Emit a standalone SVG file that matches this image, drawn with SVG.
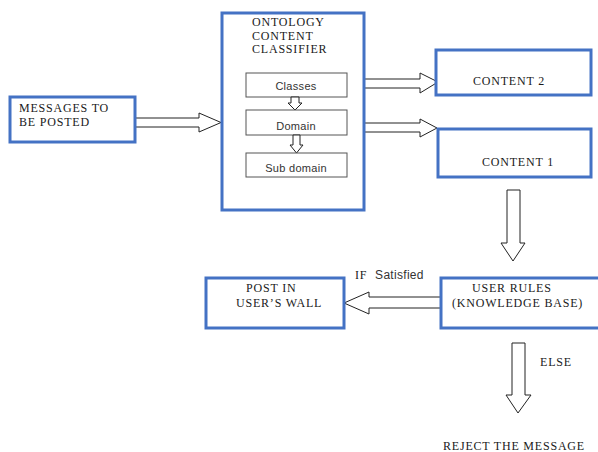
<svg xmlns="http://www.w3.org/2000/svg" width="598" height="452" viewBox="0 0 598 452">
<style>
.box{fill:#fff;stroke:#4472C4;stroke-width:3}
.sub{fill:#fff;stroke:#555;stroke-width:1}
.arr{fill:#fff;stroke:#222;stroke-width:1}
.t{font-family:"Liberation Serif",serif;font-size:12px;fill:#1a1a1a;letter-spacing:0.8px}
.s{font-family:"Liberation Sans",sans-serif;font-size:11px;fill:#333;letter-spacing:0.3px}
</style>
<rect width="598" height="452" fill="#fff"/>
<g id="connectors">
<polygon class="arr" points="135,118 199,118 199,113 221,122.5 199,132 199,127 135,127"/>
<polygon class="arr" points="364,79 420,79 420,73 438,82 420,93 420,88 364,88"/>
<polygon class="arr" points="362,123 420,123 420,119 437,128 420,137 420,132 362,132"/>
<polygon class="arr" points="507,190 520,190 520,243 525,243 513,261 501,243 507,243"/>
<polygon class="arr" points="441,297 369,297 369,292 344,303 369,314 369,308 441,308"/>
<polygon class="arr" points="512,343 525,343 525,395 531,395 518,413 506,395 512,395"/>
<text class="t" x="355" y="279">IF <tspan class="s" dx="4" style="font-size:12px">Satisfied</tspan></text>
<text class="t" x="540" y="366">ELSE</text>
</g>
<g id="messages">
<rect class="box" x="10" y="97" width="125" height="45"/>
<text class="t" x="19" y="112">MESSAGES TO</text>
<text class="t" x="19" y="126">BE POSTED</text>
</g>
<g id="ontology">
<rect class="box" x="222" y="13" width="142" height="197"/>
<text class="t" x="252" y="26">ONTOLOGY</text>
<text class="t" x="252" y="40">CONTENT</text>
<text class="t" x="252" y="53">CLASSIFIER</text>
<g id="classes">
<rect class="sub" x="246" y="73" width="101" height="24"/>
<text class="s" x="296" y="90" text-anchor="middle">Classes</text>
</g>
<polygon class="arr" points="291,97 299,97 299,103 302,103 295,110 288,103 291,103"/>
<g id="domain">
<rect class="sub" x="246" y="110" width="101" height="25"/>
<text class="s" x="296" y="130" text-anchor="middle">Domain</text>
</g>
<polygon class="arr" points="293,135 300,135 300,145 303,145 296.5,153 290,145 293,145"/>
<g id="subdomain">
<rect class="sub" x="246" y="153" width="101" height="24"/>
<text class="s" x="296" y="172" text-anchor="middle">Sub domain</text>
</g>
</g>
<g id="content2">
<rect class="box" x="436" y="50" width="155" height="45"/>
<text class="t" x="473" y="85">CONTENT 2</text>
</g>
<g id="content1">
<rect class="box" x="438" y="129" width="153" height="48"/>
<text class="t" x="482" y="166">CONTENT 1</text>
</g>
<g id="post">
<rect class="box" x="206" y="278" width="138" height="50"/>
<text class="t" x="246" y="292">POST IN</text>
<text class="t" x="236" y="307">USER’S WALL</text>
</g>
<g id="rules">
<rect class="box" x="441" y="278" width="160" height="50"/>
<text class="t" x="472" y="292">USER RULES</text>
<text class="t" x="452" y="307">(KNOWLEDGE BASE)</text>
</g>
<g id="reject">
<text class="t" x="443" y="450">REJECT THE MESSAGE</text>
</g>
</svg>
